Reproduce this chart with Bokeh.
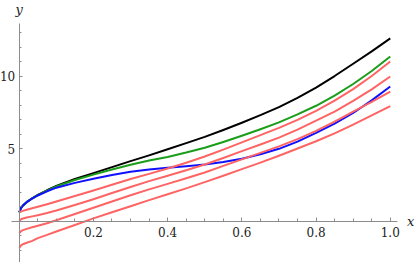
from bokeh.plotting import figure
from bokeh.models import FixedTicker, Label
from bokeh.embed import file_html
from bokeh.resources import INLINE

# ---- data ----
x_pts = [0, 0.005, 0.01, 0.02, 0.035, 0.05, 0.075, 0.1, 0.15, 0.2, 0.25, 0.3, 0.35,
         0.4, 0.45, 0.5, 0.55, 0.6, 0.65, 0.7, 0.75, 0.8, 0.85, 0.9, 0.95, 1.0]

black_y = [0.6, 0.9, 1.07, 1.3, 1.57, 1.8, 2.12, 2.42, 2.9, 3.3, 3.72, 4.13, 4.53,
           4.95, 5.37, 5.8, 6.28, 6.78, 7.3, 7.85, 8.5, 9.2, 10.0, 10.85, 11.7, 12.6]
green_y = [0.6, 0.9, 1.07, 1.3, 1.56, 1.79, 2.1, 2.38, 2.83, 3.2, 3.55, 3.88, 4.17,
           4.42, 4.72, 5.05, 5.45, 5.88, 6.33, 6.8, 7.35, 7.95, 8.65, 9.45, 10.35, 11.35]
blue_y = [0.6, 0.9, 1.07, 1.3, 1.55, 1.76, 2.05, 2.3, 2.63, 2.91, 3.18, 3.4, 3.55,
          3.68, 3.78, 3.9, 4.07, 4.3, 4.6, 4.98, 5.48, 6.08, 6.72, 7.45, 8.32, 9.28]
red_ys = [
    [0.6, 0.66, 0.7, 0.78, 0.88, 0.98, 1.16, 1.35, 1.72, 2.1, 2.5, 2.9, 3.25,
     3.62, 4.02, 4.45, 4.92, 5.42, 5.92, 6.42, 6.98, 7.6, 8.3, 9.1, 10.0, 11.0],
    [0.0, 0.12, 0.17, 0.24, 0.32, 0.4, 0.55, 0.72, 1.1, 1.5, 1.93, 2.35, 2.75,
     3.12, 3.5, 3.9, 4.35, 4.82, 5.28, 5.75, 6.3, 6.92, 7.55, 8.28, 9.08, 9.97],
    [-0.85, -0.7, -0.63, -0.54, -0.43, -0.33, -0.15, 0.05, 0.48, 0.91, 1.35, 1.78, 2.18,
     2.56, 2.95, 3.35, 3.8, 4.25, 4.7, 5.15, 5.65, 6.22, 6.85, 7.55, 8.22, 8.93],
    [-1.85, -1.68, -1.6, -1.5, -1.37, -1.18, -0.96, -0.72, -0.28, 0.18, 0.6, 1.02, 1.44,
     1.85, 2.25, 2.68, 3.12, 3.58, 4.03, 4.5, 5.0, 5.5, 6.05, 6.65, 7.28, 7.93],
]

x_major = [0.2, 0.4, 0.6, 0.8, 1.0]
x_major_labels = ["0.2", "0.4", "0.6", "0.8", "1.0"]
x_minor = [0.05, 0.1, 0.15, 0.25, 0.3, 0.35, 0.45, 0.5, 0.55, 0.65, 0.7, 0.75,
           0.85, 0.9, 0.95]
y_major = [5, 10]
y_minor = [-2, -1, 1, 2, 3, 4, 6, 7, 8, 9, 11, 12, 13]

# ---- figure ----
p = figure(width=415, height=262, x_range=(-0.0505, 1.068), y_range=(-2.862, 15.21),
           output_backend="svg", toolbar_location=None, min_border=0)
p.outline_line_color = None
p.xgrid.visible = False
p.ygrid.visible = False

axis_col = "#8c8c8c"
for ax in (p.xaxis[0], p.yaxis[0]):
    ax.fixed_location = 0
    ax.axis_line_color = axis_col
    ax.major_tick_line_color = axis_col
    ax.minor_tick_line_color = axis_col
    ax.major_tick_out = 0
    ax.minor_tick_out = 0
    ax.major_label_text_font = "DejaVu Serif"
    ax.major_label_text_font_size = "12px"
    ax.major_label_text_color = "#222222"

p.xaxis.ticker = FixedTicker(ticks=x_major, minor_ticks=x_minor)
p.xaxis.major_label_overrides = {v: s for v, s in zip(x_major, x_major_labels)}
p.xaxis.major_tick_in = 4
p.xaxis.minor_tick_in = 3
p.xaxis.major_label_standoff = 6
p.xaxis.bounds = (-0.02, 1.02)

p.yaxis.ticker = FixedTicker(ticks=y_major, minor_ticks=y_minor)
p.yaxis.major_tick_in = 3
p.yaxis.minor_tick_in = 2
p.yaxis.major_label_standoff = 4
p.yaxis.bounds = (-2.862, 13.65)

p.line(x_pts, black_y, line_width=2, color="black", line_join="round")
p.line(x_pts, green_y, line_width=2, color="#1a9e1a", line_join="round")
p.line(x_pts, blue_y, line_width=2, color="#1010ff", line_join="round")
for ry in red_ys:
    p.line(x_pts, ry, line_width=2, color="#ff6464", line_join="round")

p.add_layout(Label(x=1.045, y=0, text="x", text_font="DejaVu Serif", text_font_style="italic",
                   text_font_size="13px", text_baseline="middle", text_align="left",
                   text_color="#222222"))
p.add_layout(Label(x=0, y=14.6, text="y", text_font="DejaVu Serif", text_font_style="italic",
                   text_font_size="13px", text_baseline="alphabetic", text_align="center",
                   text_color="#222222"))

open("out.html", "w").write(file_html(p, INLINE))
